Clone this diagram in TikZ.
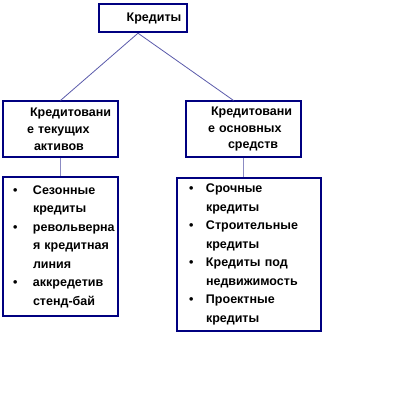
\documentclass[tikz,border=0pt]{standalone}
\usepackage{fontspec}
\setmainfont{Liberation Sans}
\usepackage{xcolor}
\usetikzlibrary{positioning}

\definecolor{boxnavy}{HTML}{000080}
\definecolor{linknavy}{HTML}{5A5AAA}

\begin{document}
\begin{tikzpicture}[
    x=1pt, y=-1pt,
    topbox/.style={draw=boxnavy, line width=2.4pt, inner sep=0pt, minimum width=88pt,
                   minimum height=28pt, font=\bfseries\fontsize{12.5}{14}\selectfont},
    catbox/.style={draw=boxnavy, line width=1.1pt, inner sep=0pt, text width=115pt,
                   minimum height=56pt, align=left, font=\bfseries\fontsize{12.5}{16.8}\selectfont},
    listbox/.style={draw=boxnavy, line width=1.1pt, inner sep=0pt, align=left,
                    font=\bfseries\fontsize{12.5}{18.5}\selectfont},
    link/.style={draw=linknavy, line width=0.8pt},
    stem/.style={draw=linknavy!70, line width=1.6pt}
]
\useasboundingbox (0,0) rectangle (403,417);

% top level
\node[topbox] (credits) at (143,18) {\hspace{22pt}Кредиты};

% two kinds of credit
\node[catbox] (current) at (60.5,129)
    {\hspace{27pt}Кредитовани\\\hspace{24pt}е текущих\\\hspace{31pt}активов};
\node[catbox] (fixed) at (243.5,129)
    {\hspace{25pt}Кредитовани\\\hspace{22pt}е основных\\\hspace{42pt}средств};

% lists
\node[listbox, text width=115pt, minimum height=139pt] (currentlist) at (60.5,246.5)
    {\makebox[30pt][l]{\hspace{10pt}\textbullet}Сезонные\\
     \hspace{30pt}кредиты\\
     \makebox[30pt][l]{\hspace{10pt}\textbullet}револьверна\\
     \hspace{30pt}я кредитная\\
     \hspace{30pt}линия\\
     \makebox[30pt][l]{\hspace{10pt}\textbullet}аккредетив\\
     \hspace{30pt}стенд-бай};
\node[listbox, text width=144pt, minimum height=153pt] (fixedlist) at (249,254.5)
    {\makebox[29pt][l]{\hspace{12pt}\textbullet}Срочные\\
     \hspace{29pt}кредиты\\
     \makebox[29pt][l]{\hspace{12pt}\textbullet}Строительные\\
     \hspace{29pt}кредиты\\
     \makebox[29pt][l]{\hspace{12pt}\textbullet}Кредиты под\\
     \hspace{29pt}недвижимость\\
     \makebox[29pt][l]{\hspace{12pt}\textbullet}Проектные\\
     \hspace{29pt}кредиты};

% connectors
\coordinate (apex) at ([xshift=-5pt]credits.south);
\draw[link] (apex) -- (current.north);
\draw[link] (apex) -- ([xshift=-10pt]fixed.north);
\draw[stem] (current.south) -- (currentlist.north);
\draw[stem] (fixed.south) -- (fixed.south |- fixedlist.north);
\end{tikzpicture}
\end{document}
